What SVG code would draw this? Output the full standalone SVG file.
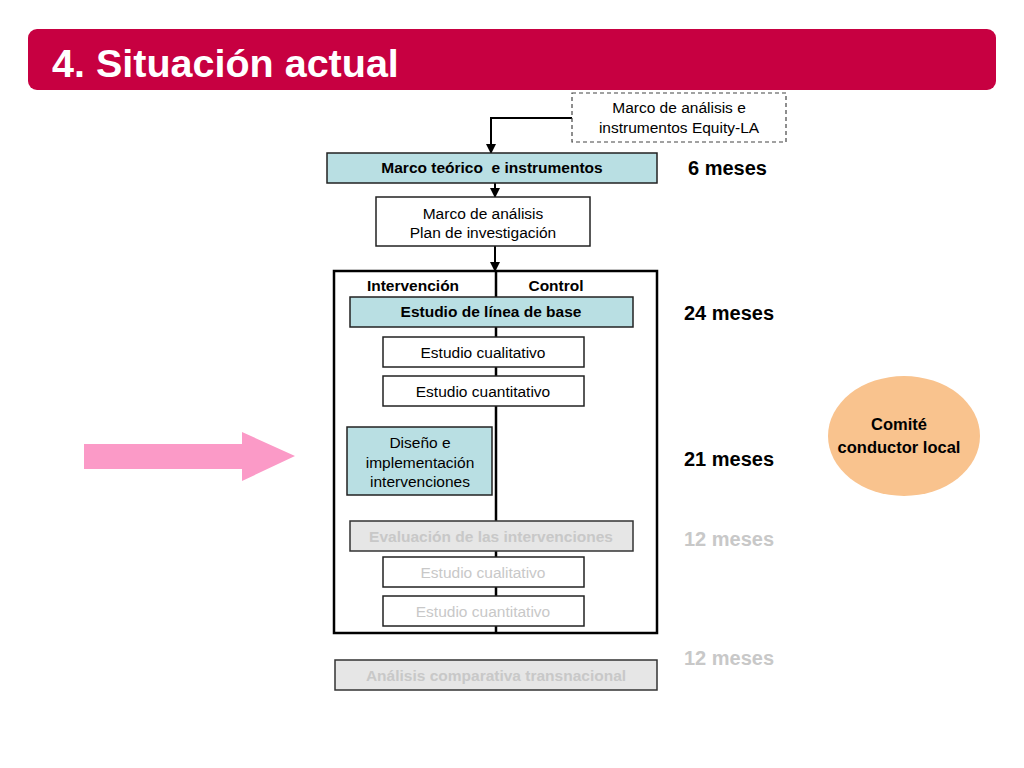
<svg xmlns="http://www.w3.org/2000/svg" width="1024" height="768" viewBox="0 0 1024 768">
<style>
text{font-family:"Liberation Sans",Arial,sans-serif;text-anchor:middle}
.box{fill:#fff;stroke:#222;stroke-width:1.5}
.teal{fill:#b9dfe3;stroke:#222;stroke-width:1.5}
.grey{fill:#e6e6e6;stroke:#333;stroke-width:1.5}
.t{font-size:15.5px;fill:#000}
.tb{font-size:15.5px;font-weight:bold;fill:#000}
.tg{font-size:15.5px;fill:#c8c8c8}
.tgb{font-size:15.5px;font-weight:bold;fill:#c8c8c8}
.m{font-size:20px;font-weight:bold;text-anchor:start;fill:#000}
.mg{font-size:20px;font-weight:bold;text-anchor:start;fill:#c8c8c8}
.ln{stroke:#000;stroke-width:2;fill:none}
</style>
<defs>
<marker id="ah" markerWidth="10" markerHeight="10" refX="9" refY="5" orient="auto" markerUnits="userSpaceOnUse">
<path d="M0,0 L10,5 L0,10 z" fill="#000"/>
</marker>
</defs>
<rect width="1024" height="768" fill="#fff"/>
<g id="title">
<rect x="28" y="29" width="968" height="61" rx="9" fill="#c70041"/>
<text x="52" y="77" style="font-size:39.5px;font-weight:bold;fill:#fff;text-anchor:start">4. Situación actual</text>
</g>
<g id="connectors">
<polyline class="ln" points="572,118 491,118 491,153" marker-end="url(#ah)"/>
<line class="ln" x1="495" y1="183" x2="495" y2="197" marker-end="url(#ah)"/>
<line class="ln" x1="495" y1="246" x2="495" y2="271" marker-end="url(#ah)"/>
</g>
<g id="equity">
<rect x="572" y="93" width="214" height="49" fill="#fff" stroke="#444" stroke-width="1.2" stroke-dasharray="4,3"/>
<text class="t" x="679" y="113">Marco de análisis e</text>
<text class="t" x="679" y="133">instrumentos Equity-LA</text>
</g>
<g id="marco-teorico">
<rect class="teal" x="327" y="153" width="330" height="30"/>
<text class="tb" x="492" y="173" xml:space="preserve">Marco teórico  e instrumentos</text>
</g>
<text class="m" x="688" y="175">6 meses</text>
<g id="marco-analisis">
<rect class="box" x="376" y="197" width="214" height="49"/>
<text class="t" x="483" y="219">Marco de análisis</text>
<text class="t" x="483" y="238">Plan de investigación</text>
</g>
<g id="container">
<rect x="334" y="271" width="323" height="362" fill="#fff" stroke="#000" stroke-width="2.5"/>
<line x1="496" y1="271" x2="496" y2="633" stroke="#000" stroke-width="2.5"/>
<text class="tb" x="413" y="291">Intervención</text>
<text class="tb" x="556" y="291">Control</text>
</g>
<g id="linea-base">
<rect class="teal" x="350" y="297" width="283" height="30"/>
<text class="tb" x="491" y="317">Estudio de línea de base</text>
</g>
<g id="cualitativo1">
<rect class="box" x="383" y="337" width="201" height="30"/>
<text class="t" x="483" y="358">Estudio cualitativo</text>
</g>
<g id="cuantitativo1">
<rect class="box" x="383" y="376" width="201" height="30"/>
<text class="t" x="483" y="397">Estudio cuantitativo</text>
</g>
<text class="m" x="684" y="320">24 meses</text>
<g id="diseno">
<rect class="teal" x="347" y="427" width="145" height="68"/>
<text class="t" x="420" y="448">Diseño e</text>
<text class="t" x="420" y="468">implementación</text>
<text class="t" x="420" y="487">intervenciones</text>
</g>
<text class="m" x="684" y="466">21 meses</text>
<g id="evaluacion">
<rect class="grey" x="350" y="521" width="283" height="30"/>
<text class="tgb" x="491" y="542">Evaluación de las intervenciones</text>
</g>
<g id="cualitativo2">
<rect class="box" x="383" y="557" width="201" height="30"/>
<text class="tg" x="483" y="578">Estudio cualitativo</text>
</g>
<g id="cuantitativo2">
<rect class="box" x="383" y="596" width="201" height="30"/>
<text class="tg" x="483" y="617">Estudio cuantitativo</text>
</g>
<text class="mg" x="684" y="546">12 meses</text>
<g id="comparativa">
<rect class="grey" x="335" y="660" width="322" height="30"/>
<text class="tgb" x="496" y="681">Análisis comparativa transnacional</text>
</g>
<text class="mg" x="684" y="665">12 meses</text>
<g id="pink-arrow">
<polygon points="84,444 242,444 242,432 295,456 242,481 242,469 84,469" fill="#fb9ac7"/>
</g>
<g id="comite">
<ellipse cx="904" cy="436" rx="76" ry="60" fill="#f9c38e"/>
<text x="899" y="430" style="font-size:16.5px;font-weight:bold">Comité</text>
<text x="899" y="453" style="font-size:16.5px;font-weight:bold">conductor local</text>
</g>
</svg>
